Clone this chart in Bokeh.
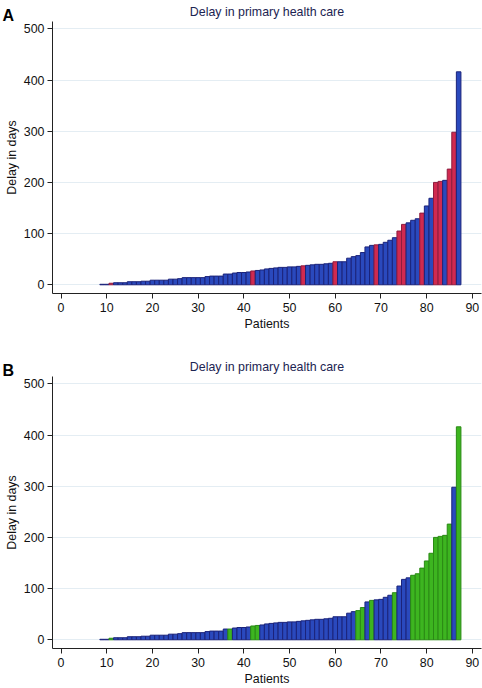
from bokeh.plotting import figure
from bokeh.layouts import column
from bokeh.models import Title, FixedTicker, ColumnDataSource, Range1d
from bokeh.embed import file_html
from bokeh.resources import INLINE

# ---- data ----
patients = list(range(9, 88))
delay_days = [1, 1, 3, 4, 4, 4, 6, 6, 6, 7, 7, 9, 9, 9, 9, 11, 11, 12, 14, 14,
              14, 14, 14, 16, 17, 17, 17, 21, 21, 23, 24, 24, 25, 27, 28, 29, 31, 32, 33, 34,
              34, 35, 35, 36, 37, 38, 39, 40, 40, 41, 42, 45, 45, 45, 52, 55, 57, 63, 74, 77,
              78, 79, 83, 87, 92, 105, 118, 121, 126, 129, 140, 154, 169, 200, 202, 204, 226, 298, 416]
highlight_a = [11, 42, 53, 60, 69, 74, 75, 79, 82, 83, 85, 86]
highlight_b = [11, 37, 42, 43, 65, 66, 68, 73, 77, 78, 79, 80, 81, 82, 83, 84, 85, 87]
x_ticks = [0, 10, 20, 30, 40, 50, 60, 70, 80, 90]
y_ticks = [0, 100, 200, 300, 400, 500]
title_text = "Delay in primary health care"
x_label = "Patients"
y_label = "Delay in days"

assert len(patients) == len(delay_days)

FONT = "Liberation Sans"
FS = "12.4px"
BLUE_FILL, BLUE_LINE = "#2a49bd", "#1b237a"


def make_panel(letter, highlight, hi_fill, hi_line, height):
    fills = [hi_fill if pt in highlight else BLUE_FILL for pt in patients]
    lines = [hi_line if pt in highlight else BLUE_LINE for pt in patients]
    src = ColumnDataSource(dict(patient=patients, delay=delay_days, fill=fills, line=lines))

    p = figure(width=482, height=height, output_backend="svg", toolbar_location=None,
               x_range=Range1d(-1.86, 92.0), y_range=Range1d(-17.0, 514.3),
               min_border_left=52, min_border_right=1, min_border_top=21,
               min_border_bottom=height - 21 - 272)
    p.outline_line_color = None
    p.background_fill_color = "white"

    # panel letter: zero-size title (negative standoff) drawn left of the frame
    p.add_layout(Title(text=letter, align="left", offset=-50, standoff=-30,
                       vertical_align="top", text_font=FONT, text_font_size="16px",
                       text_font_style="bold", text_color="black"), "above")

    p.title.text = title_text
    p.title.align = "center"
    p.title.text_font = FONT
    p.title.text_font_size = FS
    p.title.text_font_style = "normal"
    p.title.text_color = "#1c2452"
    p.title.standoff = 5

    p.vbar(x="patient", top="delay", bottom=0, width=1, source=src,
           fill_color="fill", line_color="line", line_width=1)

    p.xgrid.visible = False
    p.ygrid.grid_line_color = "#e4edf3"
    p.ygrid.grid_line_width = 1

    p.xaxis.ticker = FixedTicker(ticks=x_ticks)
    p.yaxis.ticker = FixedTicker(ticks=y_ticks)
    for ax in (p.xaxis[0], p.yaxis[0]):
        ax.minor_tick_line_color = None
        ax.major_tick_in = 0
        ax.major_tick_out = 5
        ax.major_tick_line_color = "#222222"
        ax.axis_line_color = "#222222"
        ax.major_label_text_font = FONT
        ax.major_label_text_font_size = FS
        ax.major_label_text_color = "#111111"
        ax.axis_label_text_font = FONT
        ax.axis_label_text_font_size = FS
        ax.axis_label_text_font_style = "normal"
        ax.axis_label_text_color = "#111111"
    p.xaxis.axis_label = x_label
    p.yaxis.axis_label = y_label
    p.xaxis.major_label_standoff = 4
    p.xaxis.axis_label_standoff = 2
    p.yaxis.major_label_standoff = 3
    p.yaxis.axis_label_standoff = 2
    return p


pa = make_panel("A", highlight_a, "#d02a50", "#8e1c3e", 355)
pb = make_panel("B", highlight_b, "#3db520", "#2a8a14", 333)

layout = column(pa, pb, spacing=0)
open("out.html", "w").write(file_html(layout, INLINE))
